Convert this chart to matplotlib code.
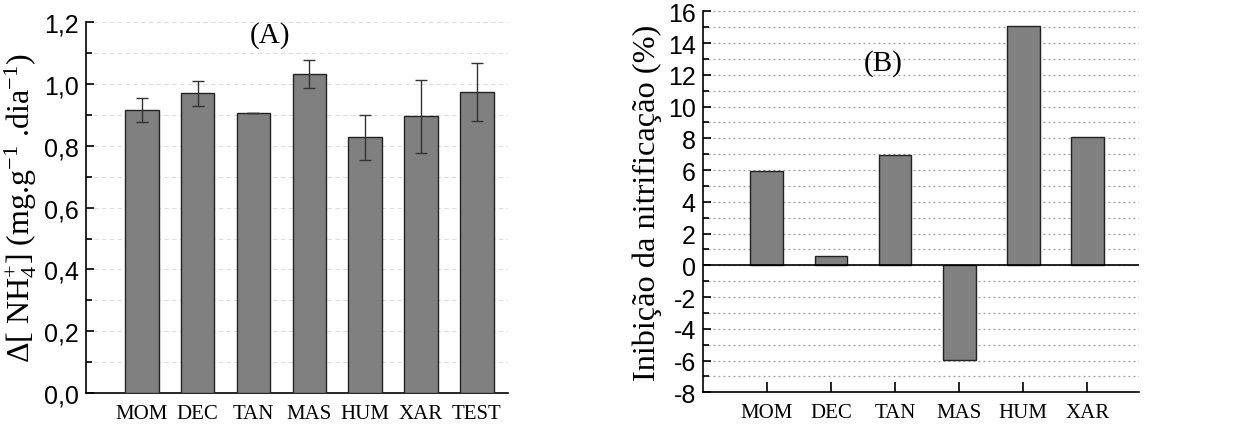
import numpy as np
import matplotlib
matplotlib.use("Agg")
import matplotlib.pyplot as plt
from matplotlib.ticker import MultipleLocator, FuncFormatter

# Panel A data
cats_a = ["MOM", "DEC", "TAN", "MAS", "HUM", "XAR", "TEST"]
nh4 = [0.916, 0.969, 0.906, 1.032, 0.827, 0.896, 0.974]
nh4_err = [0.038, 0.039, 0.0, 0.045, 0.072, 0.118, 0.093]

# Panel B data
cats_b = ["MOM", "DEC", "TAN", "MAS", "HUM", "XAR"]
inhib = [5.95, 0.61, 6.94, -5.96, 15.1, 8.07]

bar_color = "#808080"
serif = "Liberation Serif"
sans = "Liberation Sans"

plt.rcParams["axes.unicode_minus"] = False
plt.rcParams["mathtext.fontset"] = "custom"
plt.rcParams["mathtext.rm"] = serif
plt.rcParams["mathtext.it"] = serif + ":italic"
plt.rcParams["mathtext.bf"] = serif + ":bold"

fig = plt.figure(figsize=(12.35, 4.27), dpi=100)
ax1 = fig.add_axes([0.0696, 0.077, 0.3414, 0.869])
ax2 = fig.add_axes([0.569, 0.079, 0.353, 0.892])

comma = FuncFormatter(lambda v, p: f"{v:.1f}".replace(".", ","))

# (A)
xa = np.arange(len(cats_a))
ax1.bar(xa, nh4, width=0.6, color=bar_color, edgecolor="#222222", linewidth=1, zorder=3)
ax1.errorbar(xa, nh4, yerr=nh4_err, fmt="none", ecolor="#333333", elinewidth=1,
             capsize=4, capthick=1, zorder=4)
ax1.set_xlim(-1, 6.55)
ax1.set_ylim(0, 1.2)
ax1.yaxis.set_major_locator(MultipleLocator(0.2))
ax1.yaxis.set_minor_locator(MultipleLocator(0.1))
ax1.yaxis.set_major_formatter(comma)
ax1.grid(axis="y", which="both", color="#dddddd", linestyle=(0, (4, 3)), linewidth=0.8, zorder=0)
ax1.set_xticks(xa)
ax1.set_xticklabels(cats_a, fontfamily=serif, fontsize=15)
ax1.set_ylabel(r"$\Delta$[ NH$_4^{+}$] (mg.g$^{-1}$ .dia$^{-1}$)", fontfamily=serif, fontsize=23)
ax1.text(2.3, 1.16, "(A)", fontfamily=serif, fontsize=21, ha="center", va="center")

# (B)
xb = np.arange(len(cats_b))
ax2.bar(xb, inhib, width=0.51, color=bar_color, edgecolor="#222222", linewidth=1, zorder=3)
ax2.axhline(0, color="black", linewidth=1.2, zorder=4)
ax2.set_xlim(-1, 5.8)
ax2.set_ylim(-8, 16)
ax2.yaxis.set_major_locator(MultipleLocator(2))
ax2.yaxis.set_minor_locator(MultipleLocator(1))
ax2.grid(axis="y", which="both", color="#999999", linestyle=(0, (1.5, 2.5)), linewidth=0.9, zorder=0)
ax2.set_xticks(xb)
ax2.set_xticklabels(cats_b, fontfamily=serif, fontsize=15)
ax2.set_ylabel("Inibição da nitrificação (%)", fontfamily=serif, fontsize=23.3)
ax2.text(1.81, 12.8, "(B)", fontfamily=serif, fontsize=21, ha="center", va="center")

for ax in (ax1, ax2):
    ax.spines["top"].set_visible(False)
    ax.spines["right"].set_visible(False)
    ax.spines["left"].set_linewidth(1.2)
    ax.spines["bottom"].set_linewidth(1.2)
    ax.tick_params(axis="y", which="major", direction="in", length=6, width=1.2, labelsize=18, pad=5)
    ax.tick_params(axis="y", which="minor", direction="in", length=4, width=1.2)
    ax.tick_params(axis="x", direction="in", length=7, width=1.2, pad=8)
    for lab in ax.get_yticklabels():
        lab.set_fontfamily(sans)

fig.savefig("out.png", dpi=100)
